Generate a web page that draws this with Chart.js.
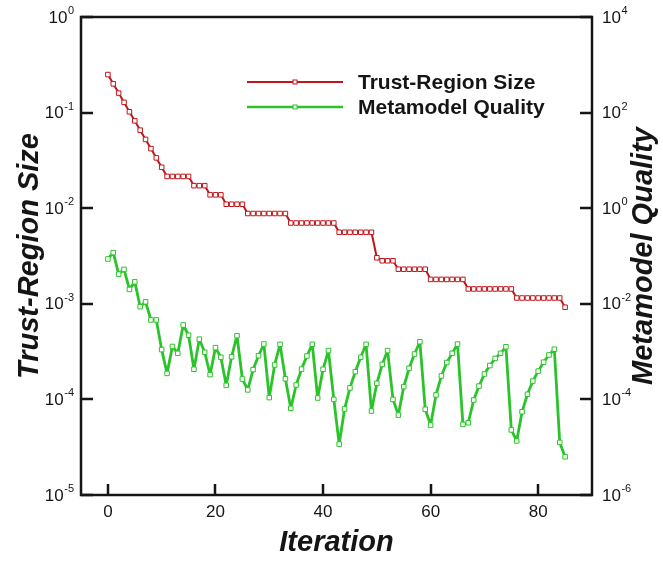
<!DOCTYPE html>
<html>
<head>
<meta charset="utf-8">
<script src="https://cdn.jsdelivr.net/npm/chart.js@4.4.0/dist/chart.umd.min.js"></script>
<style>
  html, body { margin: 0; padding: 0; background: #fff; }
  #wrap { width: 663px; height: 561px; }
</style>
</head>
<body>
<div id="wrap"><canvas id="chartcanvas" width="663" height="561"></canvas></div>
<script>
// iteration numbers
var iterations = [0, 1, 2, 3, 4, 5, 6, 7, 8, 9, 10, 11, 12, 13, 14, 15, 16, 17, 18, 19,
    20, 21, 22, 23, 24, 25, 26, 27, 28, 29, 30, 31, 32, 33, 34, 35, 36, 37, 38, 39,
    40, 41, 42, 43, 44, 45, 46, 47, 48, 49, 50, 51, 52, 53, 54, 55, 56, 57, 58, 59,
    60, 61, 62, 63, 64, 65, 66, 67, 68, 69, 70, 71, 72, 73, 74, 75, 76, 77, 78, 79,
    80, 81, 82, 83, 84, 85];

// trust-region size (left axis)
var trustSize = [0.25, 0.2, 0.16, 0.128, 0.102, 0.082, 0.0655, 0.0524, 0.042, 0.0336,
    0.0268, 0.0215, 0.0215, 0.0215, 0.0215, 0.0215, 0.0172, 0.0172, 0.0172, 0.0138,
    0.0138, 0.0138, 0.011, 0.011, 0.011, 0.011, 0.0088, 0.0088, 0.0088, 0.0088,
    0.0088, 0.0088, 0.0088, 0.0088, 0.007, 0.007, 0.007, 0.007, 0.007, 0.007,
    0.007, 0.007, 0.007, 0.0056, 0.0056, 0.0056, 0.0056, 0.0056, 0.0056, 0.0056,
    0.00303, 0.00282, 0.00282, 0.00282, 0.0023, 0.0023, 0.0023, 0.0023, 0.0023, 0.0023,
    0.0018, 0.0018, 0.0018, 0.0018, 0.0018, 0.0018, 0.0018, 0.00143, 0.00143, 0.00143,
    0.00143, 0.00143, 0.00143, 0.00143, 0.00143, 0.00143, 0.00115, 0.00115, 0.00115, 0.00115,
    0.00115, 0.00115, 0.00115, 0.00115, 0.00115, 0.00092];

// metamodel quality (right axis)
var quality = [0.0867, 0.1175, 0.0417, 0.0525, 0.020, 0.0288, 0.0087, 0.011, 0.0046, 0.0046,
    0.0011, 3.5e-4, 1.28e-3, 9.2e-4, 3.6e-3, 2.2e-3, 4.27e-4, 1.82e-3, 9.7e-4, 3.3e-4,
    1.21e-3, 7.6e-4, 1.97e-4, 7.8e-4, 2.15e-3, 2.67e-4, 1.58e-4, 4.2e-4, 8.2e-4, 1.44e-3,
    1.09e-4, 5.25e-4, 1.42e-3, 2.7e-4, 6.5e-5, 2.0e-4, 4.3e-4, 8.1e-4, 1.42e-3, 1.07e-4,
    4.27e-4, 1.05e-3, 1.0e-4, 1.16e-5, 6.3e-5, 1.74e-4, 3.8e-4, 7.6e-4, 1.42e-3, 5.7e-5,
    2.17e-4, 5.4e-4, 1.05e-3, 1.0e-4, 4.7e-5, 1.85e-4, 4.47e-4, 8.9e-4, 1.61e-3, 6.2e-5,
    2.9e-5, 1.24e-4, 3.1e-4, 5.9e-4, 9.2e-4, 1.44e-3, 3.0e-5, 3.25e-5, 9.7e-5, 1.9e-4,
    3.4e-4, 5.1e-4, 7.2e-4, 9.2e-4, 1.26e-3, 2.3e-5, 1.35e-5, 5.5e-5, 1.28e-4, 2.42e-4,
    3.9e-4, 6.0e-4, 8.5e-4, 1.12e-3, 1.26e-5, 6.3e-6];

var xTicks = [0, 20, 40, 60, 80];
var leftExps = [-5, -4, -3, -2, -1, 0];
var rightExps = [-6, -4, -2, 0, 2, 4];

var seriesNames = ["Trust-Region Size", "Metamodel Quality"];
var seriesColors = ["#c0151b", "#2ac42a"];

var FONT = "'Liberation Sans', Arial, sans-serif";
var INK = "#151515";
var TITLE_SIZE = 29;

function pts(ys) {
    return iterations.map(function (x, i) { return { x: x, y: ys[i] }; });
}

function keepExps(exps) {
    return function (scale) {
        scale.ticks = exps.map(function (e) { return { value: Math.pow(10, e), exp: e }; });
    };
}

// frame, inward ticks, power labels, right title and legend
var decorations = {
    id: "decorations",
    afterDraw: function (chart) {
        var ctx = chart.ctx, a = chart.chartArea;
        var sx = chart.scales.x, sy = chart.scales.y, sy2 = chart.scales.y2;
        ctx.save();

        ctx.strokeStyle = INK;
        ctx.lineWidth = 2.5;
        ctx.strokeRect(a.left, a.top, a.right - a.left, a.bottom - a.top);

        ctx.beginPath();
        xTicks.forEach(function (v) {
            var px = Math.round(sx.getPixelForValue(v));
            ctx.moveTo(px, a.bottom); ctx.lineTo(px, a.bottom - 11);
        });
        sy.ticks.forEach(function (t) {
            var py = Math.round(sy.getPixelForValue(t.value));
            ctx.moveTo(a.left, py); ctx.lineTo(a.left + 12, py);
        });
        sy2.ticks.forEach(function (t) {
            var py = Math.round(sy2.getPixelForValue(t.value));
            ctx.moveTo(a.right, py); ctx.lineTo(a.right - 12, py);
        });
        ctx.stroke();

        // 10^n labels
        ctx.fillStyle = INK;
        ctx.textBaseline = "middle";
        ctx.textAlign = "left";
        var baseFont = "17px " + FONT, supFont = "11px " + FONT;
        sy.ticks.forEach(function (t) {
            var py = sy.getPixelForValue(t.value);
            ctx.font = supFont;
            var ew = ctx.measureText(String(t.exp)).width;
            ctx.font = baseFont;
            var bw = ctx.measureText("10").width;
            var right = a.left - 7;
            ctx.fillText("10", right - ew - bw - 0.5, py + 1);
            ctx.font = supFont;
            ctx.fillText(String(t.exp), right - ew, py - 6);
        });
        sy2.ticks.forEach(function (t) {
            var py = sy2.getPixelForValue(t.value);
            var left = a.right + 10;
            ctx.font = baseFont;
            var bw = ctx.measureText("10").width;
            ctx.fillText("10", left, py + 1);
            ctx.font = supFont;
            ctx.fillText(String(t.exp), left + bw + 0.5, py - 6);
        });

        // right axis title, reading upwards
        ctx.save();
        ctx.translate(644, (a.top + a.bottom) / 2);
        ctx.rotate(-Math.PI / 2);
        ctx.textAlign = "center";
        ctx.font = "italic bold " + TITLE_SIZE + "px " + FONT;
        ctx.fillText("Metamodel Quality", 0, 0);
        ctx.restore();

        // legend
        var ly = [82, 107];
        seriesNames.forEach(function (name, i) {
            ctx.strokeStyle = seriesColors[i];
            ctx.lineWidth = i === 0 ? 2 : 2.5;
            ctx.beginPath();
            ctx.moveTo(247, ly[i]); ctx.lineTo(343, ly[i]);
            ctx.stroke();
            ctx.fillStyle = "#fff";
            ctx.lineWidth = 1;
            ctx.fillRect(293, ly[i] - 2, 4, 4);
            ctx.strokeRect(293, ly[i] - 2, 4, 4);
            ctx.fillStyle = INK;
            ctx.font = "bold 21px " + FONT;
            ctx.textAlign = "left";
            ctx.fillText(name, 358, ly[i] + 1);
        });

        ctx.restore();
    }
};

var ctx1 = document.getElementById("chartcanvas");

var chart1 = new Chart(ctx1, {
    type: "line",
    data: {
        datasets: [
            {
                label: seriesNames[0],
                data: pts(trustSize),
                yAxisID: "y",
                borderColor: seriesColors[0],
                borderWidth: 2,
                borderJoinStyle: "round",
                backgroundColor: "#fff",
                pointStyle: "rect",
                pointRadius: 3.2,
                pointBorderWidth: 1,
                pointBackgroundColor: "#fff",
                pointBorderColor: seriesColors[0],
                tension: 0
            },
            {
                label: seriesNames[1],
                data: pts(quality),
                yAxisID: "y2",
                borderColor: seriesColors[1],
                borderWidth: 2.8,
                borderJoinStyle: "round",
                backgroundColor: "#fff",
                pointStyle: "rect",
                pointRadius: 3.2,
                pointBorderWidth: 1,
                pointBackgroundColor: "#fff",
                pointBorderColor: seriesColors[1],
                tension: 0
            }
        ]
    },
    options: {
        responsive: false,
        animation: false,
        devicePixelRatio: 1,
        layout: { padding: { top: 17, left: 0, right: 0, bottom: 0 } },
        plugins: {
            legend: { display: false },
            tooltip: { enabled: false }
        },
        scales: {
            x: {
                type: "linear",
                position: "bottom",
                min: -5,
                max: 90,
                afterBuildTicks: function (scale) {
                    scale.ticks = xTicks.map(function (v) { return { value: v }; });
                },
                afterFit: function (scale) { scale.height = 66; },
                grid: { display: false, drawTicks: false },
                border: { display: false },
                ticks: {
                    color: INK,
                    padding: 7,
                    maxRotation: 0,
                    font: { family: FONT, size: 17 }
                },
                title: {
                    display: true,
                    text: "Iteration",
                    color: INK,
                    padding: { top: 0, bottom: 1 },
                    font: { family: FONT, size: TITLE_SIZE, weight: "bold", style: "italic" }
                }
            },
            y: {
                type: "logarithmic",
                position: "left",
                min: 1e-5,
                max: 1,
                afterBuildTicks: keepExps(leftExps),
                afterFit: function (scale) { scale.width = 81; },
                grid: { display: false, drawTicks: false },
                border: { display: false },
                ticks: { display: false },
                title: {
                    display: true,
                    text: "Trust-Region Size",
                    color: INK,
                    padding: { top: 13, bottom: 0 },
                    font: { family: FONT, size: TITLE_SIZE, weight: "bold", style: "italic" }
                }
            },
            y2: {
                type: "logarithmic",
                position: "right",
                min: 1e-6,
                max: 1e4,
                afterBuildTicks: keepExps(rightExps),
                afterFit: function (scale) { scale.width = 71; },
                grid: { display: false, drawTicks: false },
                border: { display: false },
                ticks: { display: false }
            }
        }
    },
    plugins: [decorations]
});
</script>
</body>
</html>
